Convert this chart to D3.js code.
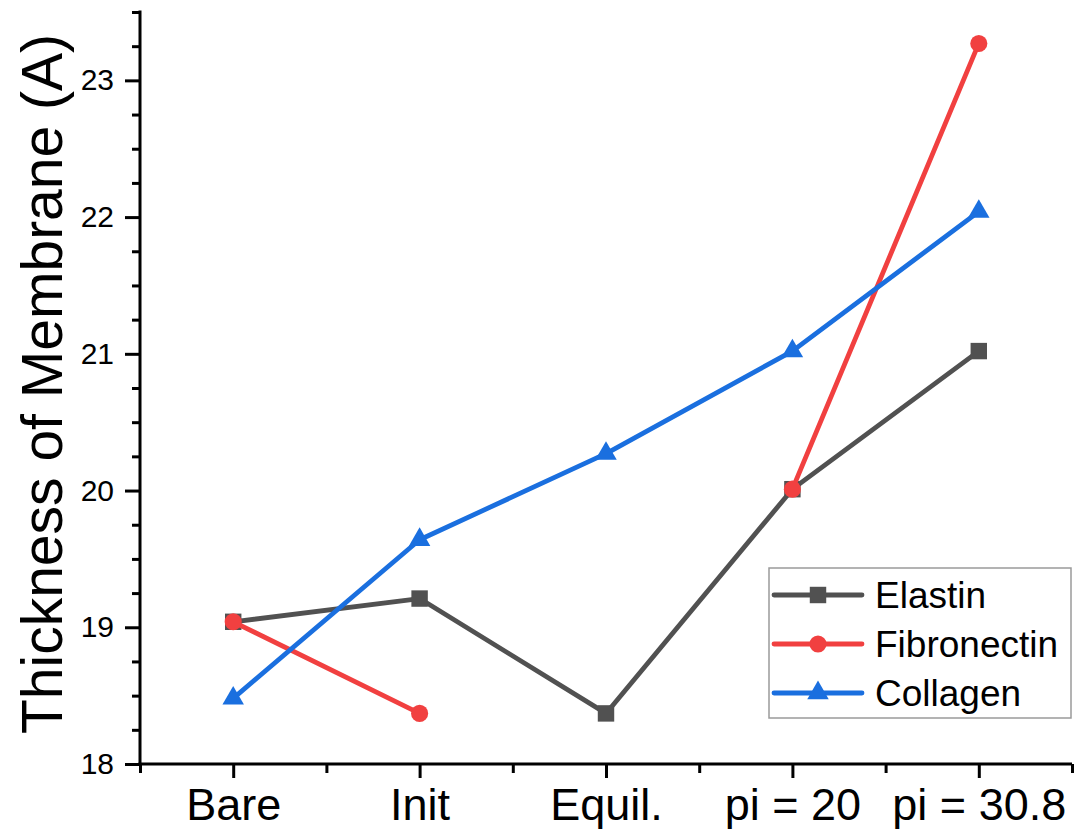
<!DOCTYPE html>
<html>
<head>
<meta charset="utf-8">
<script src="https://cdn.jsdelivr.net/npm/d3@7"></script>
<style>
  body { margin: 0; background: #fff; }
  text { font-family: "Liberation Sans", Arial, sans-serif; fill: #000; }
</style>
</head>
<body>
<div id="chart"></div>
<script>
// Categories and series
var categories = ["Bare", "Init", "Equil.", "pi = 20", "pi = 30.8"];
var elastin = [19.04, 19.21, 18.37, 20.01, 21.02];
var fibronectin = [19.04, 18.37, null, 20.01, 23.27];
var collagen = [18.48, 19.64, 20.27, 21.02, 22.04];
var yTicks = [18, 19, 20, 21, 22, 23];

var series = [
  {name: "Elastin", values: elastin, color: "#515151", symbol: d3.symbolSquare, size: 270},
  {name: "Fibronectin", values: fibronectin, color: "#F14040", symbol: d3.symbolCircle, size: 230},
  {name: "Collagen", values: collagen, color: "#1A6FDF", symbol: d3.symbolTriangle, size: 200}
];

const W = 1074, H = 832;
const margin = {top: 12, right: 2, bottom: 68, left: 140},
    width = W - margin.left - margin.right,
    height = H - margin.top - margin.bottom;

var svg = d3.select("#chart")
  .append("svg")
  .attr("width", W)
  .attr("height", H)
  .append("g")
  .attr("transform", "translate(" + margin.left + "," + margin.top + ")");

// x: category index 1..5, half a step of padding each side
const xScale = d3.scaleLinear().domain([0.5, categories.length + 0.5]).range([0, width]);
const yScale = d3.scaleLinear().domain([18, 23.5]).range([height, 0]);

// minor ticks first
var yMinor = d3.range(18, 23.5001, 0.25).filter(function(v) { return Math.abs(v - Math.round(v)) > 1e-6; });
var xMinor = d3.range(0.5, categories.length + 0.5001, 1);

var yMinorAxis = svg.append("g")
  .call(d3.axisLeft(yScale).tickValues(yMinor).tickSize(8).tickFormat(""));
var xMinorAxis = svg.append("g")
  .attr("transform", "translate(0," + height + ")")
  .call(d3.axisBottom(xScale).tickValues(xMinor).tickSize(9).tickFormat(""));

var yAxis = svg.append("g")
  .call(d3.axisLeft(yScale).tickValues(yTicks).tickSize(15).tickPadding(11).tickFormat(d3.format("d")));
var xAxis = svg.append("g")
  .attr("transform", "translate(0," + height + ")")
  .call(d3.axisBottom(xScale).tickValues(d3.range(1, categories.length + 1)).tickSize(14).tickPadding(10)
    .tickFormat(function(d) { return categories[d - 1]; }));

[yMinorAxis, xMinorAxis, yAxis, xAxis].forEach(function(g) {
  g.selectAll("line").attr("stroke", "#000").attr("stroke-width", 3);
  g.select(".domain").remove();
});

// axis lines
svg.append("line")
  .attr("x1", 0).attr("x2", 0).attr("y1", -1.5).attr("y2", height + 1.5)
  .attr("stroke", "#000").attr("stroke-width", 3);
svg.append("line")
  .attr("x1", -1.5).attr("x2", width).attr("y1", height).attr("y2", height)
  .attr("stroke", "#000").attr("stroke-width", 3);

yAxis.selectAll("text").style("font-size", "30px").style("font-family", "'Liberation Sans', Arial, sans-serif").attr("fill", "#000");
xAxis.selectAll("text").style("font-size", "45px").style("font-family", "'Liberation Sans', Arial, sans-serif").attr("fill", "#000");

// y axis title
svg.append("text")
  .attr("text-anchor", "middle")
  .attr("transform", "rotate(-90)")
  .attr("x", -(height / 2) + 4)
  .attr("y", -margin.left + 62)
  .style("font-size", "57px")
  .text("Thickness of Membrane (A)");

// lines and markers
var line = d3.line()
  .defined(function(d) { return d != null; })
  .x(function(d, i) { return xScale(i + 1); })
  .y(function(d) { return yScale(d); });

series.forEach(function(s) {
  svg.append("path")
    .datum(s.values)
    .attr("fill", "none")
    .attr("stroke", s.color)
    .attr("stroke-width", 4.8)
    .attr("stroke-linejoin", "round")
    .attr("d", line);

  svg.selectAll(null)
    .data(s.values.map(function(v, i) { return {v: v, i: i}; }).filter(function(d) { return d.v != null; }))
    .enter()
    .append("path")
    .attr("d", d3.symbol().type(s.symbol).size(s.size))
    .attr("fill", s.color)
    .attr("transform", function(d) { return "translate(" + xScale(d.i + 1) + "," + yScale(d.v) + ")"; });
});

// legend
var legend = svg.append("g")
  .attr("transform", "translate(" + (769 - margin.left) + "," + (568 - margin.top) + ")");
legend.append("rect")
  .attr("width", 302).attr("height", 150)
  .attr("fill", "#fff")
  .attr("stroke", "#9a9a9a")
  .attr("stroke-width", 1.5);

series.forEach(function(s, i) {
  var yy = 27 + i * 49;
  var row = legend.append("g").attr("transform", "translate(0," + yy + ")");
  row.append("line")
    .attr("x1", 5).attr("x2", 93)
    .attr("stroke", s.color).attr("stroke-width", 4.8).attr("stroke-linecap", "round");
  row.append("path")
    .attr("d", d3.symbol().type(s.symbol).size(s.size))
    .attr("fill", s.color)
    .attr("transform", "translate(49,0)");
  row.append("text")
    .attr("x", 106)
    .attr("dy", "0.35em")
    .style("font-size", "37px")
    .text(s.name);
});
</script>
</body>
</html>
